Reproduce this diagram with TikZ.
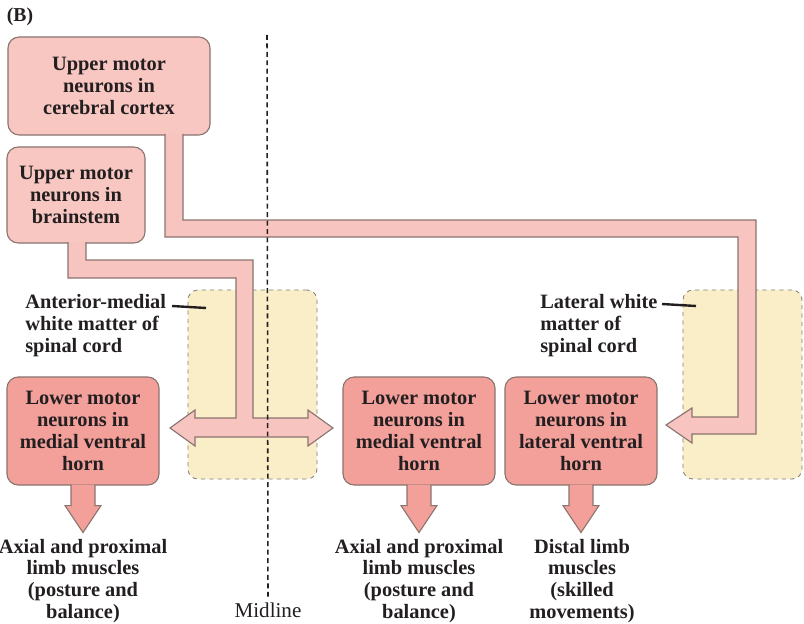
\documentclass[tikz,border=0pt]{standalone}
\usepackage{fontspec}
\setmainfont{Liberation Serif}
\usepackage{tikz}

\definecolor{uppink}{HTML}{F8C7C2}
\definecolor{lowpink}{HTML}{F3A09A}
\definecolor{tractpink}{HTML}{F7C4C0}
\definecolor{cordyellow}{HTML}{FAEEC8}
\definecolor{edge}{HTML}{8A7470}
\definecolor{ink}{HTML}{231F20}

\begin{document}
\begin{tikzpicture}[x=0.025cm,y=-0.025cm,
    every node/.style={text=ink},
    lbl/.style={font=\fontsize{14.5}{15.6}\selectfont\bfseries,inner sep=0pt},
    upperbox/.style={lbl,draw=edge,fill=uppink,line width=0.8pt,
        rounded corners=0.28cm,align=center},
    lowerbox/.style={upperbox,fill=lowpink,minimum height=2.7cm},
    cord/.style={draw=gray,fill=cordyellow,dashed,line width=0.6pt,
        rounded corners=0.25cm,inner sep=0pt},
    tract/.style={draw=edge,fill=tractpink,line width=0.8pt,miter limit=4},
    outflow/.style={draw=edge,fill=lowpink,line width=0.8pt},
    pointer/.style={draw=ink,line width=1.7pt}]
        \useasboundingbox (0,0) rectangle (804,624);

        % Spinal cord columns
        \node [cord,minimum width=3.225cm,minimum height=4.725cm] (amcord)
            at (252.5,384.5) {};
        \node [cord,minimum width=2.975cm,minimum height=4.725cm] (latcord)
            at (742.5,384.5) {};

        % Neurons
        \node [upperbox,minimum width=5.05cm,minimum height=2.45cm] (cortex)
            at (109,86) {Upper motor\\neurons in\\cerebral cortex};
        \node [upperbox,minimum width=3.45cm,minimum height=2.4cm] (brainstem)
            at (76,195) {Upper motor\\neurons in\\brainstem};
        \node [lowerbox,minimum width=3.8cm] (lowmedl) at (83,431)
            {Lower motor\\neurons in\\medial ventral\\horn};
        \node [lowerbox,minimum width=3.8cm] (lowmedr) at (419,431)
            {Lower motor\\neurons in\\medial ventral\\horn};
        \node [lowerbox,minimum width=3.8cm] (lowlat) at (581,431)
            {Lower motor\\neurons in\\lateral ventral\\horn};

        % Tracts
        \path [tract] (165,134) -- (165,237) -- (738,237) -- (738,417)
            -- (692,417) -- (692,408) -- (666,425) -- (692,443) -- (692,434)
            -- (756,434) -- (756,220) -- (183,220) -- (183,134);
        \path [tract] (68,242) -- (68,278) -- (236,278) -- (236,418)
            -- (195,418) -- (195,410) -- (170,428) -- (195,446) -- (195,437)
            -- (308,437) -- (308,446) -- (333,428) -- (308,410) -- (308,418)
            -- (253,418) -- (253,260) -- (86,260) -- (86,242);

        % Targets
        \node [lbl,align=center] (axiall) at (83,581)
            {Axial and proximal\\limb muscles\\(posture and\\balance)};
        \node [lbl,align=center] (axialr) at (419,581)
            {Axial and proximal\\limb muscles\\(posture and\\balance)};
        \node [lbl,align=center] (distal) at (582,581)
            {Distal limb\\muscles\\(skilled\\movements)};
        \foreach \n in {lowmedl,lowmedr,lowlat}
            \path [outflow] ([shift={(-12,-1)}]\n.south) -- ++(0,21)
                -- ++(-6,0) -- ++(18,27) -- ++(18,-27) -- ++(-6,0)
                -- ++(0,-21);

        % Labels
        \node [lbl,font=\fontsize{14}{15}\selectfont\bfseries] (panel)
            at (20,17) {(B)};
        \node [lbl,align=left,anchor=west] (amlabel) at (25,326)
            {Anterior-medial\\white matter of\\spinal cord};
        \node [lbl,align=left,anchor=west] (latlabel) at (540,326)
            {Lateral white\\matter of\\spinal cord};
        \coordinate (amtick) at (206,308);
        \coordinate (lattick) at (696,306);
        \draw [pointer] (172,306) -- (amtick);
        \draw [pointer] (662,304) -- (lattick);

        % Midline
        \node [inner sep=0pt,font=\fontsize{15}{16}\selectfont] (midline)
            at (268,610) {Midline};
        \draw [ink,line width=1.1pt,dash pattern=on 3.5pt off 2.5pt]
            (267,35) -- ([yshift=4pt]midline.north);

\end{tikzpicture}
\end{document}
